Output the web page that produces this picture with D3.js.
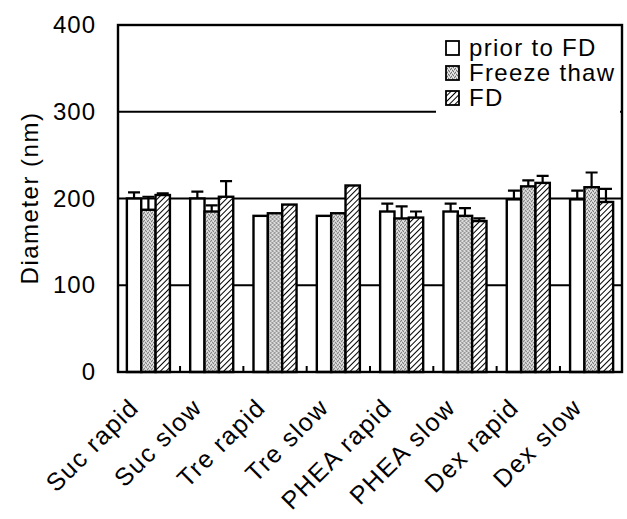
<!DOCTYPE html>
<html>
<head>
<meta charset="utf-8">
<script src="https://cdn.jsdelivr.net/npm/d3@7"></script>
<style>
  body { margin: 0; background: #fff; }
  text { font-family: Arial, "Liberation Sans", sans-serif; fill: #000; }
</style>
</head>
<body>
<svg id="chart" width="627" height="519"></svg>
<script>
// data
var categories = ["Suc rapid", "Suc slow", "Tre rapid", "Tre slow", "PHEA rapid", "PHEA slow", "Dex rapid", "Dex slow"];
var seriesNames = ["prior to FD", "Freeze thaw", "FD"];
var priorToFD = [200, 200, 180, 180, 185, 185, 199, 199];
var priorErr = [7, 8, 0, 0, 9, 9, 10, 10];
var freezeThaw = [187, 185, 183, 183, 177, 180, 214, 213];
var freezeErr = [15, 7, 0, 0, 14, 9, 7, 17];
var fd = [204, 202, 193, 215, 178, 174, 218, 196];
var fdErr = [2, 18, 0, 0, 7, 3, 8, 15];
var yTicks = [0, 100, 200, 300, 400];
var gridValues = [100, 200, 300];

var svg = d3.select("#chart");
var margin = {top: 25, right: 5, bottom: 147, left: 118},
    width = 627 - margin.left - margin.right,
    height = 519 - margin.top - margin.bottom;

var defs = svg.append("defs");

// stippled grey
var stip = defs.append("pattern").attr("id", "stipple")
    .attr("patternUnits", "userSpaceOnUse").attr("width", 4).attr("height", 4);
stip.append("rect").attr("width", 4).attr("height", 4).attr("fill", "#c8c8c8");
[[0, 0], [2, 1], [1, 3], [3, 2]].forEach(function (p) {
  stip.append("rect").attr("x", p[0]).attr("y", p[1]).attr("width", 1).attr("height", 1).attr("fill", "#707070");
});
[[1, 1], [3, 0], [0, 2], [2, 3]].forEach(function (p) {
  stip.append("rect").attr("x", p[0]).attr("y", p[1]).attr("width", 1).attr("height", 1).attr("fill", "#f0f0f0");
});

// diagonal hatch
var hatch = defs.append("pattern").attr("id", "hatch")
    .attr("patternUnits", "userSpaceOnUse").attr("width", 4).attr("height", 4)
    .attr("patternTransform", "rotate(45)");
hatch.append("rect").attr("width", 4).attr("height", 4).attr("fill", "#fff");
hatch.append("line").attr("x1", 0).attr("y1", 0).attr("x2", 0).attr("y2", 4)
    .attr("stroke", "#000").attr("stroke-width", 2);

var fills = ["#fff", "url(#stipple)", "url(#hatch)"];

var g = svg.append("g").attr("transform", "translate(" + margin.left + "," + margin.top + ")");

var x0 = d3.scaleBand().domain(categories).range([0, width])
    .paddingInner(0.32).paddingOuter(0.14);
var x1 = d3.scaleBand().domain(seriesNames).range([0, x0.bandwidth()]);
var y = d3.scaleLinear().domain([0, 400]).range([height, 0]);

// gridlines
g.selectAll(".grid").data(gridValues).enter().append("line")
    .attr("x1", 0).attr("x2", width)
    .attr("y1", function (d) { return y(d); }).attr("y2", function (d) { return y(d); })
    .attr("stroke", "#000").attr("stroke-width", 2);

var rows = categories.map(function (c, i) {
  return {cat: c, vals: [
    {s: 0, v: priorToFD[i], e: priorErr[i]},
    {s: 1, v: freezeThaw[i], e: freezeErr[i]},
    {s: 2, v: fd[i], e: fdErr[i]}
  ]};
});

var groups = g.selectAll(".grp").data(rows).enter().append("g")
    .attr("transform", function (d) { return "translate(" + x0(d.cat) + ",0)"; });

// error bars (upper only)
groups.selectAll(".err").data(function (d) { return d.vals.filter(function (v) { return v.e > 0; }); })
  .enter().append("path")
    .attr("d", function (d) {
      var cx = x1(seriesNames[d.s]) + x1.bandwidth() / 2, w = 6;
      return "M" + cx + "," + y(d.v) + "V" + y(d.v + d.e) + "M" + (cx - w) + "," + y(d.v + d.e) + "H" + (cx + w);
    })
    .attr("fill", "none").attr("stroke", "#000").attr("stroke-width", 2.2);

groups.selectAll("rect").data(function (d) { return d.vals; }).enter().append("rect")
    .attr("x", function (d) { return x1(seriesNames[d.s]); })
    .attr("width", x1.bandwidth())
    .attr("y", function (d) { return y(d.v); })
    .attr("height", function (d) { return height - y(d.v); })
    .attr("fill", function (d) { return fills[d.s]; })
    .attr("stroke", "#000").attr("stroke-width", 2.4);

// small inward ticks between groups
var gap = x0.step() * x0.paddingInner();
g.selectAll(".xt").data(categories.slice(1)).enter().append("line")
    .attr("x1", function (d) { return x0(d) - gap / 2; })
    .attr("x2", function (d) { return x0(d) - gap / 2; })
    .attr("y1", height).attr("y2", height - 6)
    .attr("stroke", "#000").attr("stroke-width", 2);

// legend
var leg = g.append("g").attr("transform", "translate(" + (width - 186) + ",10)");
leg.append("rect").attr("x", 0).attr("y", 0).attr("width", 184).attr("height", 82).attr("fill", "#fff");
seriesNames.forEach(function (s, i) {
  var row = leg.append("g").attr("transform", "translate(10," + (i * 25 + 5) + ")");
  row.append("rect").attr("x", 0).attr("y", 1).attr("width", 13).attr("height", 14)
      .attr("fill", fills[i]).attr("stroke", "#000").attr("stroke-width", 1.8);
  row.append("text").attr("x", 23).attr("y", 16).attr("font-size", 24)
      .attr("letter-spacing", 1.3).text(s);
});

// frame
g.append("rect").attr("width", width).attr("height", height)
    .attr("fill", "none").attr("stroke", "#000").attr("stroke-width", 2.4);

// y axis labels
var yAxis = g.append("g").call(d3.axisLeft(y).tickValues(yTicks).tickSize(0).tickPadding(22));
yAxis.select(".domain").remove();
yAxis.selectAll("text").attr("font-size", 24).attr("letter-spacing", 1)
    .attr("font-family", "Arial, 'Liberation Sans', sans-serif");

svg.append("text")
    .attr("transform", "translate(38,198) rotate(-90)")
    .attr("text-anchor", "middle").attr("font-size", 24).attr("letter-spacing", 1.5)
    .text("Diameter (nm)");

// x category labels
g.selectAll(".xl").data(categories).enter().append("text")
    .attr("text-anchor", "end").attr("font-size", 25).attr("letter-spacing", 1.5)
    .attr("transform", function (d) {
      return "translate(" + (x0(d) + x0.bandwidth() / 2 - 8) + "," + (height + 37) + ") rotate(-45)";
    })
    .text(function (d) { return d; });
</script>
</body>
</html>
